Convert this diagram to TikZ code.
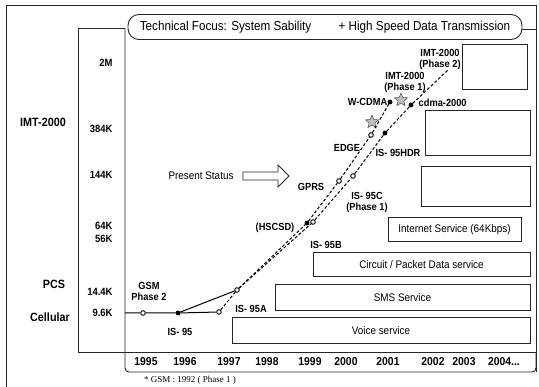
\documentclass[tikz,border=0pt]{standalone}
\usepackage{fontspec}
\setmainfont{Liberation Sans}[FakeStretch=0.9]
\newfontfamily\notefont{Liberation Serif}
\usetikzlibrary{shapes.geometric}

\begin{document}
\begin{tikzpicture}[x=1pt,y=-1pt,
  frame/.style={draw=black!85, line width=0.9pt},
  svcbox/.style={draw=black!85, line width=1pt, fill=white, rectangle,
                 inner sep=0pt, font=\fontsize{11}{12}\selectfont},
  rate/.style={anchor=east, font=\bfseries\fontsize{10.5}{11}\selectfont},
  tier/.style={font=\bfseries\fontsize{12}{13}\selectfont},
  yr/.style={font=\bfseries\fontsize{11.5}{12}\selectfont},
  tech/.style={font=\bfseries\fontsize{10.3}{11}\selectfont, align=center, inner sep=0.5pt},
  dotfill/.style={circle, fill=black, draw=black, inner sep=0pt, minimum size=4.4pt},
  dotopen/.style={circle, fill=white, draw=black, line width=0.9pt, inner sep=0pt, minimum size=4.6pt},
  starmark/.style={star, star points=5, star point ratio=2.3, minimum size=14pt,
                   inner sep=0pt, fill=gray!50, draw=gray!60!black, line width=0.5pt},
  trend/.style={line width=1pt},
  trendd/.style={line width=1pt, dash pattern=on 3pt off 2pt}
]
\useasboundingbox (0,0) rectangle (539,387);

% outer frame (open at the bottom)
\draw[frame] (6,387) -- (6,5) -- (536,5) -- (536,372);

% rate column and chart area
\draw[frame] (78,352) -- (78,28) -- (125,28);
\draw[frame] (78,352) -- (536,352);
\draw[frame, rounded corners=4pt] (125,28) -- (125,372) -- (536,372) -- (536,352);

% heading
\node[draw=black!85, line width=0.9pt, rounded corners=11pt, fill=white,
      minimum width=394pt, minimum height=25pt, inner sep=0pt,
      font=\fontsize{13}{14}\selectfont] (focus) at (325,27)
  {Technical Focus: System Sability\hspace{2.1em}+ High Speed Data Transmission};
\coordinate (edgeR) at (536,29);
\draw[frame] (focus.east |- edgeR) -- (edgeR);

% tiers
\node[tier] (imt) at (43,122) {IMT-2000};
\node[tier] (pcs) at (54,284) {PCS};
\node[tier] (cell) at (50,317) {Cellular};

% data rates
\node[rate] (r2m)  at (116,63)  {2M};
\node[rate] (r384) at (116,129) {384K};
\node[rate] (r144) at (116,175) {144K};
\node[rate] (r64)  at (116,226) {64K};
\node[rate] (r56)  at (116,239) {56K};
\node[rate] (r14)  at (116,292) {14.4K};
\node[rate] (r96)  at (116,313) {9.6K};

% years
\node[yr] (y95) at (146,362) {1995};
\node[yr] (y96) at (185,362) {1996};
\node[yr] (y97) at (229,362) {1997};
\node[yr] (y98) at (267,362) {1998};
\node[yr] (y99) at (310,362) {1999};
\node[yr] (y00) at (346,362) {2000};
\node[yr] (y01) at (388,362) {2001};
\node[yr] (y02) at (433,362) {2002};
\node[yr] (y03) at (464,362) {2003};
\node[yr] (y04) at (504,362) {2004...};

% services
\node[svcbox, minimum width=298pt, minimum height=26pt] (voice) at (381,331) {Voice service};
\node[svcbox, minimum width=255pt, minimum height=26pt] (sms) at (402.5,297.5) {SMS Service};
\node[svcbox, minimum width=217pt, minimum height=24pt] (data) at (421.5,265) {Circuit / Packet Data service};
\node[svcbox, minimum width=133pt, minimum height=24pt] (inet) at (454.5,230) {Internet Service (64Kbps)};
\node[svcbox, minimum width=109pt, minimum height=40pt] (blank3) at (475.5,187) {};
\node[svcbox, minimum width=105pt, minimum height=45pt] (blank2) at (477.5,133.5) {};
\node[svcbox, minimum width=65pt, minimum height=45pt] (blank1) at (494.5,67.5) {};

% present status pointer
\node[font=\fontsize{11}{12}\selectfont] (present) at (201,176) {Present Status};
\draw[frame, line width=0.8pt] (243,172) -- (278,172) -- (278,165) -- (289,176)
  -- (278,187) -- (278,180) -- (243,180) -- cycle;

% milestones
\coordinate (axis) at (125,313);
\node[dotopen] (p95) at (143,313) {};
\node[dotfill] (p96) at (178,313) {};
\node[dotopen] (p97) at (219,312) {};
\node[dotopen] (p14) at (237,290) {};
\node[dotfill] (hsA) at (307,223) {};
\node[dotopen] (hsB) at (313,222) {};
\node[dotopen] (gprs) at (339,181) {};
\node[dotopen] (c95) at (353,176) {};
\node[dotopen] (edge) at (371,135) {};
\node[dotfill] (hdr) at (385,133) {};
\node[dotfill] (wcdma) at (390,102) {};
\node[dotfill] (cdma) at (411,105) {};
\coordinate (ph2) at (449,69);
\node[starmark] (star1) at (372,122) {};
\node[starmark] (star2) at (401,100) {};

% evolution paths
\draw[trend] (axis) -- (p95) -- (p96) -- (p97);
\draw[trend] (p96) -- (p14);
\draw[trendd] (p97) -- (p14);
\draw[trendd] (p14) -- (hsA) -- (gprs) -- (edge) -- (wcdma);
\draw[trendd] (p14) -- (hsB) -- (c95) -- (hdr) -- (cdma) -- (ph2);

% technology labels
\node[tech] (gsm) at (149,291) {GSM\\Phase 2};
\node[tech] (is95) at (180,332) {IS- 95};
\node[tech] (is95a) at (251,309) {IS- 95A};
\node[tech] (hscsd) at (275,228) {(HSCSD)};
\node[tech] (is95b) at (326,245) {IS- 95B};
\node[tech] (gprsl) at (311,187) {GPRS};
\node[tech] (is95c) at (367,202) {IS- 95C\\(Phase 1)};
\node[tech] (edgel) at (347,148) {EDGE};
\node[tech] (hdrl) at (398,153) {IS- 95HDR};
\node[tech, anchor=east] (wcdmal) at (388,102) {W-CDMA};
\node[tech, anchor=west] (cdmal) at (418,103) {cdma-2000};
\node[tech] (imt1) at (405,82) {IMT-2000\\(Phase 1)};
\node[tech] (imt2) at (440,59) {IMT-2000\\(Phase 2)};

% footnote
\node[font=\notefont\fontsize{9}{10}\selectfont] (note) at (190,380) {* GSM : 1992 ( Phase 1 )};
\end{tikzpicture}
\end{document}
